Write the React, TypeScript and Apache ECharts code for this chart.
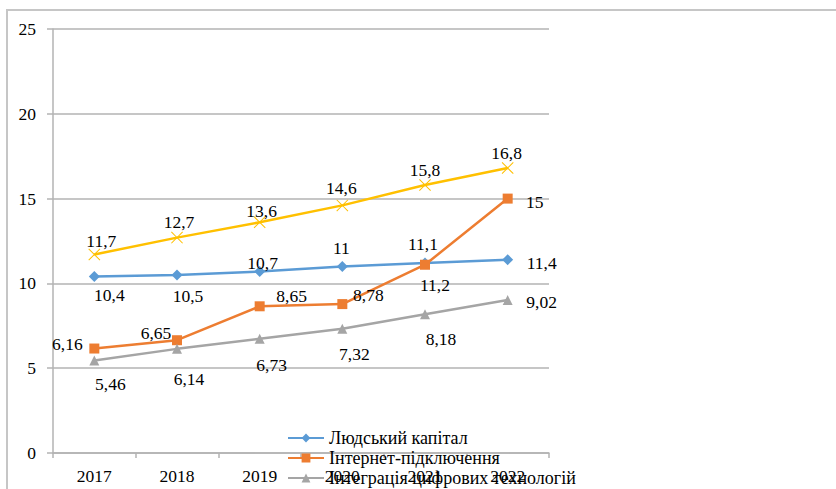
import React, { useEffect, useRef } from "react";
import * as echarts from "echarts";

const years = ["2017", "2018", "2019", "2020", "2021", "2022"];
const seriesNames = [
  "Людський капітал",
  "Інтернет-підключення",
  "Інтеграція цифрових технологій",
  "Цифрові державні послуги",
];
const humanCapital = [10.4, 10.5, 10.7, 11, 11.2, 11.4];
const connectivity = [6.16, 6.65, 8.65, 8.78, 11.1, 15];
const integration = [5.46, 6.14, 6.73, 7.32, 8.18, 9.02];
const publicServices = [11.7, 12.7, 13.6, 14.6, 15.8, 16.8];
const yTicks = [0, 5, 10, 15, 20, 25];

// label offsets (dx, dy) from each point, in px
const humanOffsets = [[15, 18], [11, 21], [3, -9], [-1, -18], [10, 22], [34, 3]];
const connOffsets = [[-27, -5], [-21, -7], [32, -10], [26, -9], [-2, -21], [27, 3]];
const integOffsets = [[16, 24], [12, 30], [12, 26], [12, 25], [16, 25], [34, 2]];
const pubOffsets = [[7, -14], [2, -16], [2, -11], [-1, -17], [0, -15], [-1, -15]];

const colors = ["#5b9bd5", "#ed7d31", "#a5a5a5", "#ffc000"];
const symbols = [
  "diamond",
  "rect",
  "triangle",
  "path://M0,0.6 L0.6,0 L5,4.4 L9.4,0 L10,0.6 L5.6,5 L10,9.4 L9.4,10 L5,5.6 L0.6,10 L0,9.4 L4.4,5 Z",
];
const symbolSizes = [11, 10, 10, 12];
const legendTops = [424, 444, 464];

const FONT = "Liberation Serif";

export default function App() {
  const ref = useRef<HTMLDivElement>(null);
  useEffect(() => {
    if (!ref.current) return;
    const chart = echarts.init(ref.current, undefined, { renderer: "svg" });
    const values = [humanCapital, connectivity, integration, publicServices];
    const offsets = [humanOffsets, connOffsets, integOffsets, pubOffsets];
    const series = values.map((vals, si) => ({
      name: seriesNames[si],
      type: "line",
      data: vals.map((v, i) => ({
        value: v,
        label: { offset: offsets[si][i] },
      })),
      symbol: symbols[si],
      symbolSize: symbolSizes[si],
      lineStyle: { color: colors[si], width: 2.5 },
      itemStyle: { color: colors[si] },
      label: {
        show: true,
        position: "inside",
        align: "center",
        verticalAlign: "middle",
        color: "#000",
        fontFamily: FONT,
        fontSize: 17.5,
        formatter: (p: any) => String(p.value).replace(".", ","),
      },
      emphasis: { disabled: true },
      z: 2 + si,
    }));
    const legends = legendTops.map((top, i) => ({
      orient: "vertical",
      left: 282,
      top,
      itemWidth: 36,
      itemHeight: 11,
      itemGap: 5,
      data: [seriesNames[i]],
      textStyle: { fontFamily: FONT, fontSize: 18, color: "#000" },
      selectedMode: false,
    }));
    chart.setOption({
      animation: false,
      backgroundColor: "#fff",
      graphic: [
        {
          type: "rect",
          shape: { x: 7, y: 10, width: 900, height: 600 },
          style: { fill: "none", stroke: "#c6c6c6", lineWidth: 2 },
          silent: true,
          z: -10,
        },
      ],
      grid: { left: 53, right: 287, top: 29, bottom: 36 },
      legend: legends,
      xAxis: {
        type: "category",
        data: years,
        boundaryGap: true,
        axisLine: { lineStyle: { color: "#b3b3b3", width: 1.5 } },
        axisTick: { show: true, length: 5, lineStyle: { color: "#b3b3b3", width: 1.5 } },
        axisLabel: { color: "#000", fontFamily: FONT, fontSize: 17.5, margin: 14 },
      },
      yAxis: {
        type: "value",
        min: yTicks[0],
        max: yTicks[yTicks.length - 1],
        interval: 5,
        axisLine: { show: true, lineStyle: { color: "#b3b3b3", width: 1.5 } },
        axisTick: { show: true, length: 6, lineStyle: { color: "#b3b3b3", width: 1.5 } },
        axisLabel: { color: "#000", fontFamily: FONT, fontSize: 17.5, margin: 17 },
        splitLine: { lineStyle: { color: "#b3b3b3", width: 1.5 } },
      },
      series,
    });
    return () => chart.dispose();
  }, []);
  return (
    <div
      ref={ref}
      style={{ position: "fixed", left: 0, top: 0, width: 836, height: 489 }}
    />
  );
}
